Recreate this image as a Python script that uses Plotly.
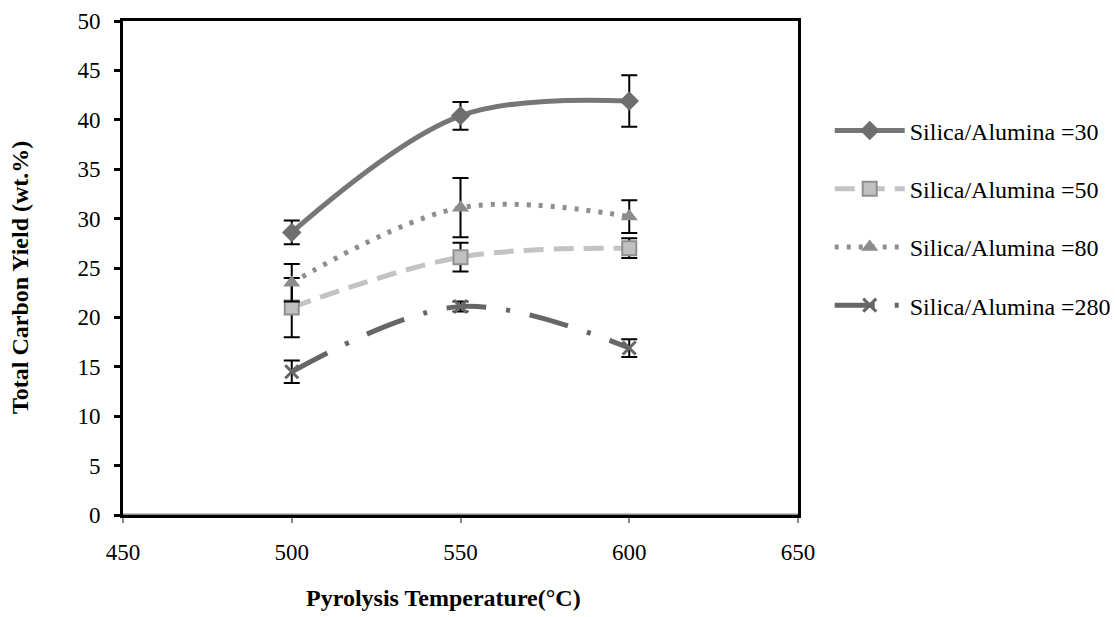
import plotly.graph_objects as go

temps = [500, 550, 600]
series_names = ["Silica/Alumina =30", "Silica/Alumina =50", "Silica/Alumina =80", "Silica/Alumina =280"]
y_30 = [28.6, 40.4, 41.9]
e_30 = [1.2, 1.4, 2.6]
y_50 = [21.0, 26.1, 27.0]
e_50 = [3.0, 1.45, 1.0]
y_80 = [23.5, 31.1, 30.2]
e_80 = [1.9, 3.0, 1.65]
y_280 = [14.5, 21.1, 16.9]
e_280 = [1.15, 0.5, 0.9]

x_ticks = [450, 500, 550, 600, 650]
y_ticks = [0, 5, 10, 15, 20, 25, 30, 35, 40, 45, 50]

FONT = "Liberation Serif, Times New Roman, serif"

styles = [
    dict(line=dict(color="#767676", width=5, dash="solid", shape="spline"),
         marker=dict(symbol="diamond", size=15, color="#6e6e6e")),
    dict(line=dict(color="#c3c3c3", width=5, dash="20px,10px", shape="spline"),
         marker=dict(symbol="square", size=14, color="#c0c0c0", line=dict(color="#8f8f8f", width=2))),
    dict(line=dict(color="#8e8e8e", width=5, dash="4px,8px", shape="spline"),
         marker=dict(symbol="triangle-up", size=15, color="#8c8c8c")),
    dict(line=dict(color="#666666", width=5, dash="40px,20px,4px,20px", shape="spline"),
         marker=dict(symbol="x-thin-open", size=13, color="#666666", line=dict(color="#666666", width=3))),
]

ys = [y_30, y_50, y_80, y_280]
es = [e_30, e_50, e_80, e_280]

fig = go.Figure()
for i, (name, yv, ev, st) in enumerate(zip(series_names, ys, es, styles)):
    fig.add_trace(go.Scatter(
        x=temps, y=yv, name=name, mode="lines+markers",
        line=st["line"], marker=st["marker"],
        error_y=dict(type="data", array=ev, visible=True, color="black", thickness=2, width=8),
        legendgroup=f"g{i}",
    ))

fig.add_shape(type="line", xref="x", yref="y", x0=450, x1=650, y0=0, y1=0,
              line=dict(color="#8a8a8a", width=3), layer="above")

fig.update_layout(
    width=1115, height=617,
    margin=dict(l=123, r=317, t=21, b=102, autoexpand=False),
    paper_bgcolor="white", plot_bgcolor="white",
    font=dict(family=FONT, size=23, color="black"),
    showlegend=True,
    legend=dict(x=1.047, y=0.823, xanchor="left", yanchor="top",
                font=dict(family=FONT, size=24, color="black"),
                tracegroupgap=24, itemwidth=70, bgcolor="rgba(0,0,0,0)"),
    xaxis=dict(range=[450, 650], tickvals=x_ticks, ticktext=[str(v) for v in x_ticks],
               showgrid=False, zeroline=False, showline=True, linecolor="black", linewidth=3,
               mirror=True, ticks="outside", ticklen=5, tickwidth=2, tickcolor="#8a8a8a",
               ticklabelstandoff=9,
               tickfont=dict(family=FONT, size=23, color="black")),
    yaxis=dict(range=[0, 50], tickvals=y_ticks, ticktext=[str(v) for v in y_ticks],
               showgrid=False, zeroline=False, showline=True, linecolor="black", linewidth=3,
               mirror=True, ticks="outside", ticklen=6, tickwidth=3, tickcolor="black",
               ticklabelstandoff=9,
               tickfont=dict(family=FONT, size=23, color="black")),
    annotations=[
        dict(text="<b>Pyrolysis Temperature(°C)</b>", xref="paper", yref="paper",
             x=(443 - 123) / 675, y=-(598 - 515) / 494, xanchor="center", yanchor="middle",
             showarrow=False, font=dict(family=FONT, size=24, color="black")),
        dict(text="<b>Total Carbon Yield (wt.%)</b>", xref="paper", yref="paper",
             x=-(123 - 20) / 675, y=(515 - 278) / 494, xanchor="center", yanchor="middle",
             textangle=-90, showarrow=False, font=dict(family=FONT, size=24, color="black")),
    ],
)

fig.write_html("out.html")
